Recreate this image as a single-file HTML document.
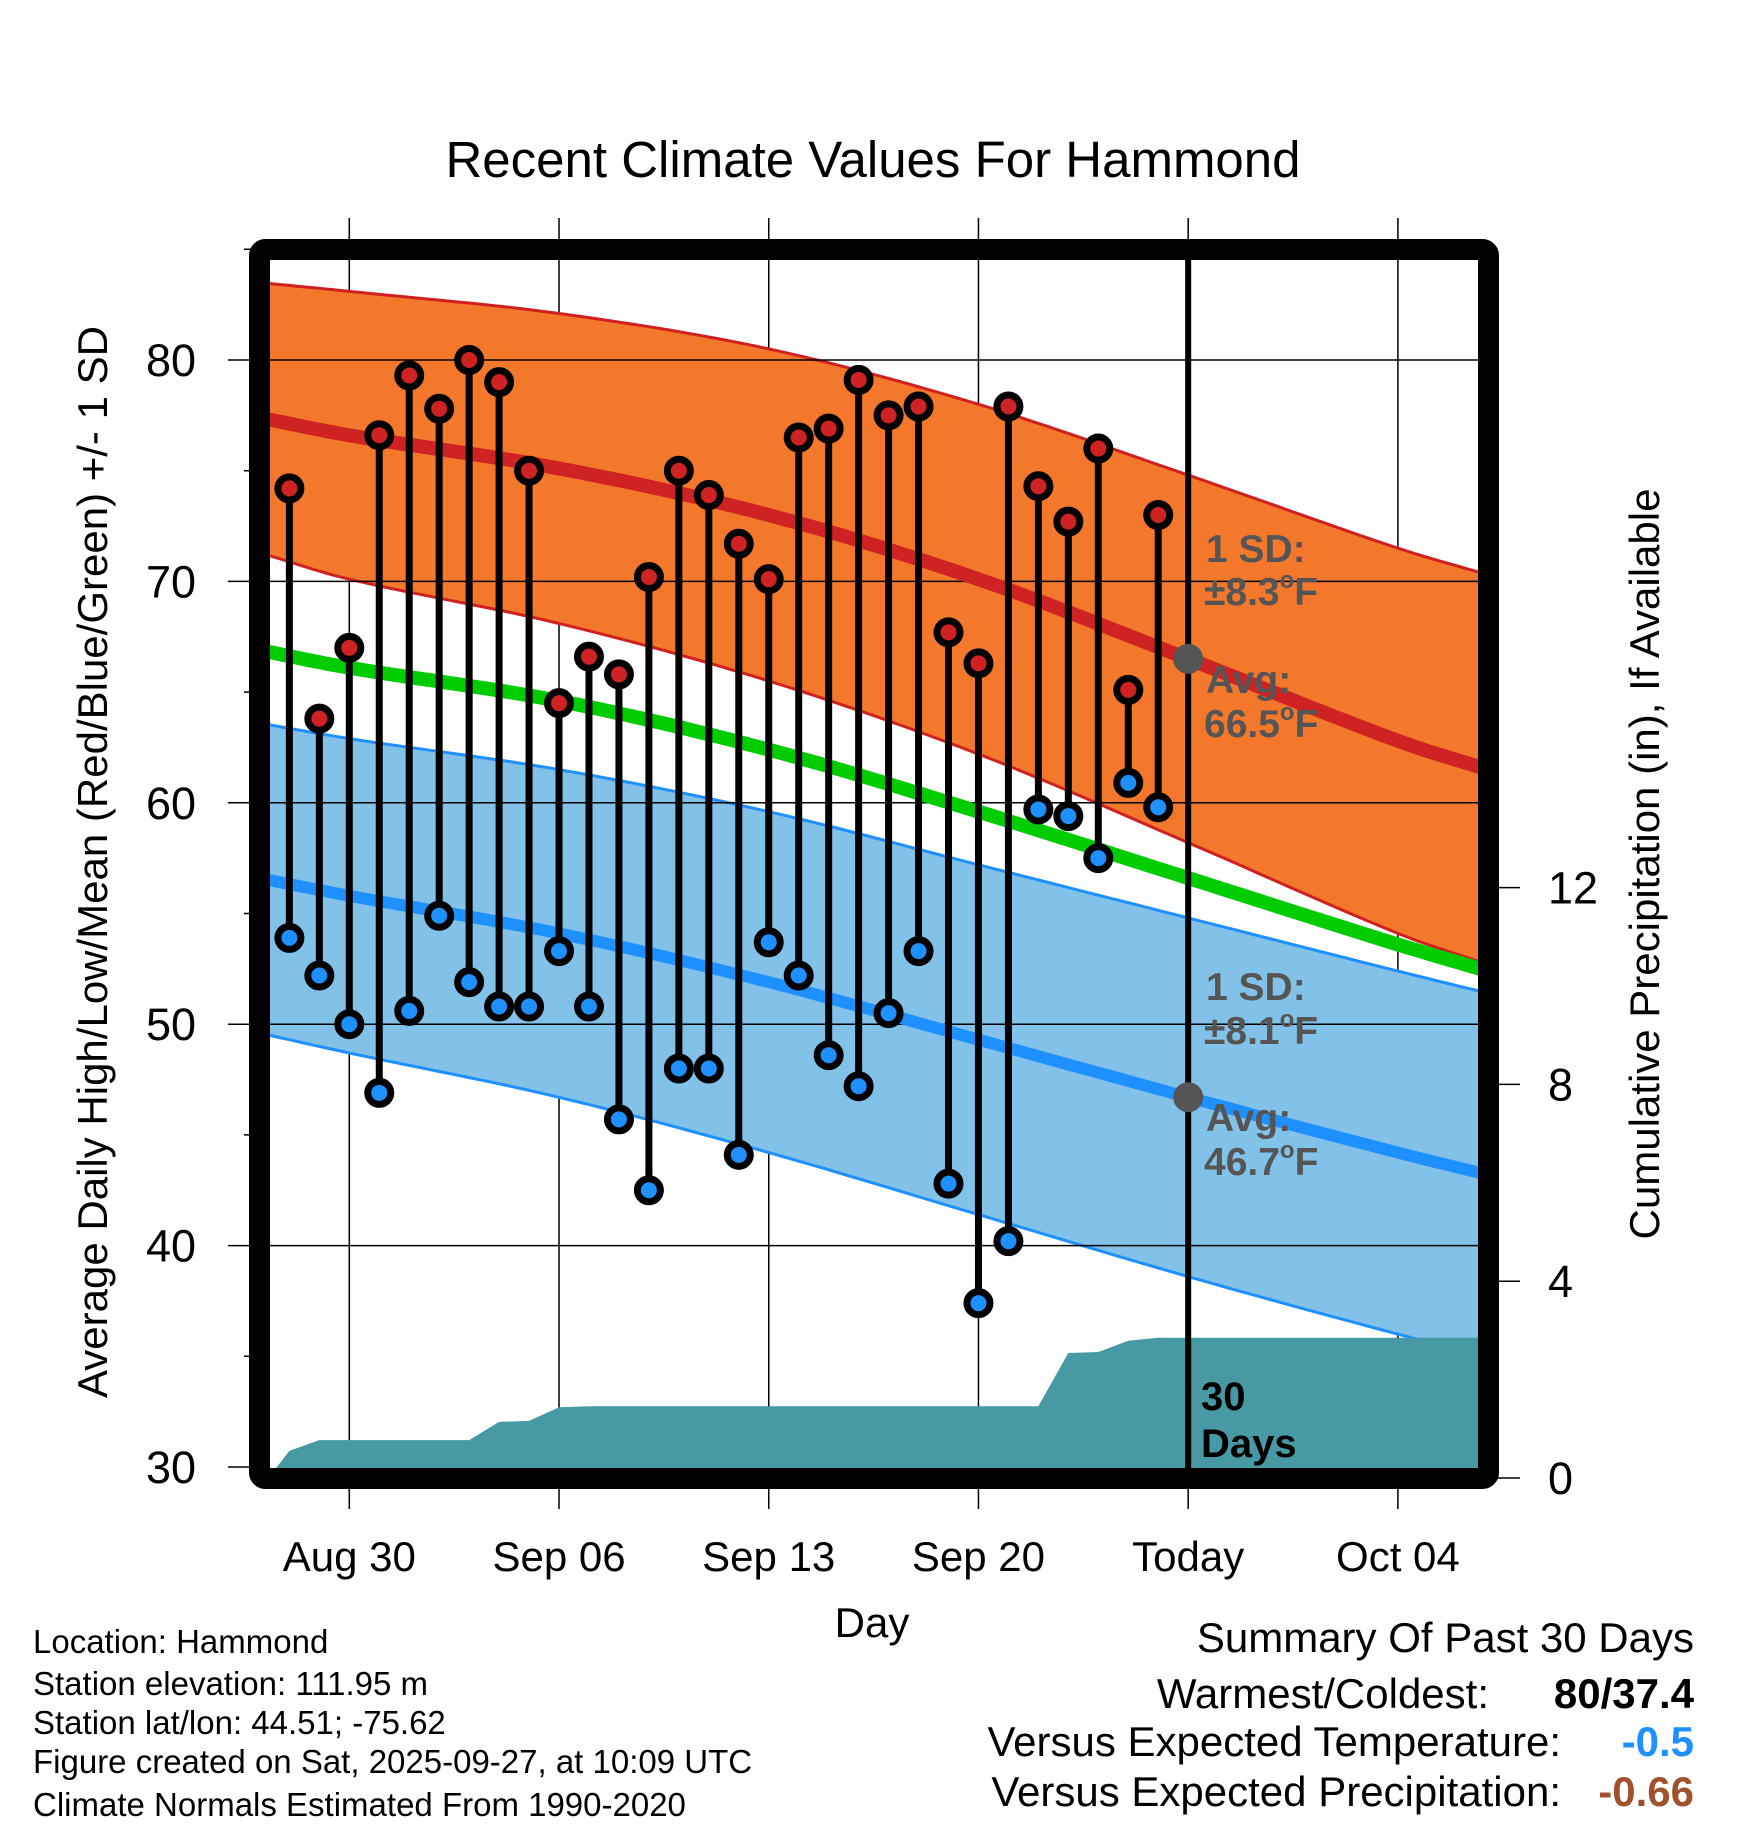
<!DOCTYPE html>
<html><head><meta charset="utf-8"><style>
html,body{margin:0;padding:0;background:#fff;}
svg{display:block;font-family:"Liberation Sans",Arial,sans-serif;}
</style></head><body>
<svg id="chart" width="1748" height="1828" viewBox="0 0 1748 1828" xmlns="http://www.w3.org/2000/svg">
<defs><clipPath id="plotclip"><rect x="270" y="260" width="1208" height="1208"/></clipPath></defs>
<rect width="1748" height="1828" fill="#fff"/>
<text x="873" y="177" font-size="51" text-anchor="middle">Recent Climate Values For Hammond</text>
<g id="gridg"></g>
<g id="plotg" clip-path="url(#plotclip)"></g>
<g id="axesg"></g>
<g id="ptsg" clip-path="url(#plotclip)"></g>
<rect x="259.5" y="249.5" width="1229" height="1229" rx="6" fill="none" stroke="#000" stroke-width="21" stroke-linejoin="round"/>
<text transform="translate(107,862) rotate(-90)" font-size="42" text-anchor="middle">Average Daily High/Low/Mean (Red/Blue/Green) +/- 1 SD</text>
<text transform="translate(1659,864) rotate(-90)" font-size="42" text-anchor="middle">Cumulative Precipitation (in), If Available</text>
<text x="872" y="1637" font-size="42" text-anchor="middle">Day</text>
<g font-size="33">
<text x="33" y="1653">Location: Hammond</text>
<text x="33" y="1695">Station elevation: 111.95 m</text>
<text x="33" y="1734">Station lat/lon: 44.51; -75.62</text>
<text x="33" y="1773">Figure created on Sat, 2025-09-27, at 10:09 UTC</text>
<text x="33" y="1816">Climate Normals Estimated From 1990-2020</text>
</g>
<g font-size="42">
<text x="1694" y="1652" text-anchor="end">Summary Of Past 30 Days</text>
<text x="1489" y="1708" text-anchor="end">Warmest/Coldest:</text>
<text x="1694" y="1708" text-anchor="end" font-weight="bold">80/37.4</text>
<text x="1561" y="1756" text-anchor="end">Versus Expected Temperature:</text>
<text x="1694" y="1756" text-anchor="end" font-weight="bold" fill="#1E90FF">-0.5</text>
<text x="1561" y="1806" text-anchor="end">Versus Expected Precipitation:</text>
<text x="1694" y="1806" text-anchor="end" font-weight="bold" fill="#A0522D">-0.66</text>
</g>
<g font-size="39" font-weight="bold" fill="#555">
<text x="1206" y="562">1 SD:</text>
<text x="1204" y="605">±8.3<tspan font-size="24" dy="-17">o</tspan><tspan dy="17">F</tspan></text>
<text x="1206" y="693">Avg:</text>
<text x="1204" y="737">66.5<tspan font-size="24" dy="-17">o</tspan><tspan dy="17">F</tspan></text>
<text x="1206" y="1000">1 SD:</text>
<text x="1204" y="1044">±8.1<tspan font-size="24" dy="-17">o</tspan><tspan dy="17">F</tspan></text>
<text x="1206" y="1131">Avg:</text>
<text x="1204" y="1175">46.7<tspan font-size="24" dy="-17">o</tspan><tspan dy="17">F</tspan></text>
</g>
<g font-size="40" font-weight="bold">
<text x="1201" y="1410">30</text>
<text x="1201" y="1457">Days</text>
</g>
</svg>
<script>
// ---- data ----
const pointDays = [-2,-1,0,1,2,3,4,5,6,7,8,9,10,11,12,13,14,15,16,17,18,19,20,21,22,23,24,25,26,27];
const highs = [74.2,63.8,67,76.6,79.3,77.8,80,79,75,64.5,66.6,65.8,70.2,75,73.9,71.7,70.1,76.5,76.9,79.1,77.5,77.9,67.7,66.3,77.9,74.3,72.7,76,65.1,73];
const lows = [53.9,52.2,50,46.9,50.6,54.9,51.9,50.8,50.8,53.3,50.8,45.7,42.5,48,48,44.1,53.7,52.2,48.6,47.2,50.5,53.3,42.8,37.4,40.2,59.7,59.4,57.5,60.9,59.8];
const normDays = [-3,0,7,14,21,28,35,38];
const normHigh = [77.4,76.6,75.1,73.0,70.1,66.5,62.8,61.5];
const sdHigh = [6.1,6.5,7.0,7.5,7.9,8.3,8.7,8.8];
const normMean = [66.9,66.1,64.6,62.4,59.6,56.6,53.6,52.4];
const normLow = [56.6,55.8,54.1,51.9,49.3,46.7,44.2,43.2];
const sdLow = [7.0,7.1,7.4,7.7,7.9,8.1,8.2,8.2];
const precipDays = [-2,-1,0,1,2,3,4,5,6,7,8,9,10,11,12,13,14,15,16,17,18,19,20,21,22,23,24,25,26,27];
const precipCum = [0.55,0.77,0.77,0.77,0.77,0.77,0.77,1.14,1.16,1.44,1.46,1.46,1.46,1.46,1.46,1.46,1.46,1.46,1.46,1.46,1.46,1.46,1.46,1.46,1.46,1.46,2.54,2.56,2.79,2.85];
const dateTicks = [0,7,14,21,28,35];
const dateLabels = ["Aug 30","Sep 06","Sep 13","Sep 20","Today","Oct 04"];
const tempTicks = [30,40,50,60,70,80];
const precipTicks = [0,4,8,12];
const todayDay = 28;

// ---- scales ----
const NS = "http://www.w3.org/2000/svg";
const X = d => 349.3 + d * 29.96;
const Y = v => 1467 - (v - 30) * 22.14;
const YP = p => 1478 - p * 49.2;
function mk(tag, attrs, parent){const e=document.createElementNS(NS,tag);for(const k in attrs)e.setAttribute(k,attrs[k]);parent.appendChild(e);return e;}
const grid=document.getElementById('gridg'), plot=document.getElementById('plotg'), axes=document.getElementById('axesg'), pts=document.getElementById('ptsg');
const combine=(a,b,s)=>a.map((v,i)=>v+s*b[i]);
// smooth Catmull-Rom sampling through knots
function lineStr(arr){
  const out=[]; const n=normDays.length;
  for(let i=0;i<n-1;i++){
    const d0=normDays[Math.max(i-1,0)], d1=normDays[i], d2=normDays[i+1], d3=normDays[Math.min(i+2,n-1)];
    const v0=arr[Math.max(i-1,0)], v1=arr[i], v2=arr[i+1], v3=arr[Math.min(i+2,n-1)];
    const m1=(v2-v0)/(d2-d0||1)*(d2-d1), m2=(v3-v1)/(d3-d1||1)*(d2-d1);
    for(let k=0;k<12;k++){
      const t=k/12, t2=t*t, t3=t2*t;
      const v=(2*t3-3*t2+1)*v1+(t3-2*t2+t)*m1+(-2*t3+3*t2)*v2+(t3-t2)*m2;
      const d=d1+t*(d2-d1);
      out.push(X(d).toFixed(1)+','+Y(v).toFixed(1));
    }
  }
  out.push(X(normDays[n-1]).toFixed(1)+','+Y(arr[n-1]).toFixed(1));
  return out;
}
function band(up,lo,fill,edge,name){
  const p=lineStr(up).concat(lineStr(lo).reverse());
  const e=mk('polygon',{points:p.join(' '),fill:fill},plot);
  
  
  [up,lo].forEach(a=>{const l=mk('polyline',{points:lineStr(a).join(' '),fill:'none',stroke:edge,'stroke-width':3},plot);
  
  });
}
band(combine(normHigh,sdHigh,1),combine(normHigh,sdHigh,-1),'#F4782B','#D02020','high-sd-band');
band(combine(normLow,sdLow,1),combine(normLow,sdLow,-1),'#82C1E8','#1E90FF','low-sd-band');

// gridlines
tempTicks.slice(1).forEach(t=>{const l=mk('line',{x1:270,x2:1478,y1:Y(t),y2:Y(t),stroke:'#000','stroke-width':1.5},plot);
  
  });
dateTicks.forEach((d,i)=>{
  if(d!==todayDay){const l=mk('line',{x1:X(d),x2:X(d),y1:218,y2:1509,stroke:'#000','stroke-width':1.5},grid);
  
  }
  else{const l=mk('line',{x1:X(d),x2:X(d),y1:1478,y2:1509,stroke:'#000','stroke-width':1.5},grid);
  
  
  const t2=mk('line',{x1:X(d),x2:X(d),y1:218,y2:250,stroke:'#000','stroke-width':1.5},grid);
  
  }
  const t=mk('text',{x:X(d),y:1571,'font-size':42,'text-anchor':'middle'},axes);t.textContent=dateLabels[i];
  
  
});

// precipitation
{
  const p=[X(-2.7)+','+YP(0)];
  precipDays.forEach((d,i)=>p.push(X(d).toFixed(1)+','+YP(precipCum[i]).toFixed(1)));
  p.push('1480,'+YP(precipCum[precipCum.length-1]).toFixed(1));
  p.push('1480,1480'); p.push(X(-2.7)+',1480');
  const e=mk('polygon',{points:p.join(' '),fill:'#4799A3'},plot);
  
  
}

// normal lines
[[normHigh,'#CF2222',14,'normal-high-line'],[normMean,'#00CC00',14,'normal-mean-line'],[normLow,'#1E90FF',12,'normal-low-line']].forEach(([a,c,w,n])=>{
  const l=mk('polyline',{points:lineStr(a).join(' '),fill:'none',stroke:c,'stroke-width':w},plot);
  
  
});

// left axis ticks
for(let v=30;v<=85;v+=5){
  const major=v%10===0;
  const l=mk('line',{x1:major?228:244,x2:262,y1:Y(v),y2:Y(v),stroke:'#000','stroke-width':1.5},axes);
  
  
}
tempTicks.forEach(t=>{const e=mk('text',{x:196,y:Y(t)+16,'font-size':45,'text-anchor':'end'},axes);e.textContent=t;
  
  });
precipTicks.forEach(t=>{
  const l=mk('line',{x1:1490,x2:1520,y1:YP(t),y2:YP(t),stroke:'#000','stroke-width':1.5},axes);
  
  
  const e=mk('text',{x:1548,y:YP(t)+16,'font-size':45},axes);e.textContent=t;
  
  
});

// today line
{
  const l=mk('line',{x1:X(todayDay),x2:X(todayDay),y1:258,y2:1470,stroke:'#000','stroke-width':6},pts);
  
  
}
// stems & points
pointDays.forEach((d,i)=>{
  const s=mk('line',{x1:X(d),x2:X(d),y1:Y(highs[i]),y2:Y(lows[i]),stroke:'#000','stroke-width':7},pts);
  
  
});
pointDays.forEach((d,i)=>{
  const h=mk('circle',{cx:X(d),cy:Y(highs[i]),r:11.5,fill:'#CF2222',stroke:'#000','stroke-width':7},pts);
  
  
  const lo=mk('circle',{cx:X(d),cy:Y(lows[i]),r:11.5,fill:'#1E90FF',stroke:'#000','stroke-width':7},pts);
  
  
});
{
  const iT=normDays.indexOf(todayDay);
  const a=mk('circle',{cx:X(todayDay),cy:Y(normHigh[iT]),r:15,fill:'#555'},pts);
  
  
  const b=mk('circle',{cx:X(todayDay),cy:Y(normLow[iT]),r:15,fill:'#555'},pts);
  
  
}
</script>
</body></html>
